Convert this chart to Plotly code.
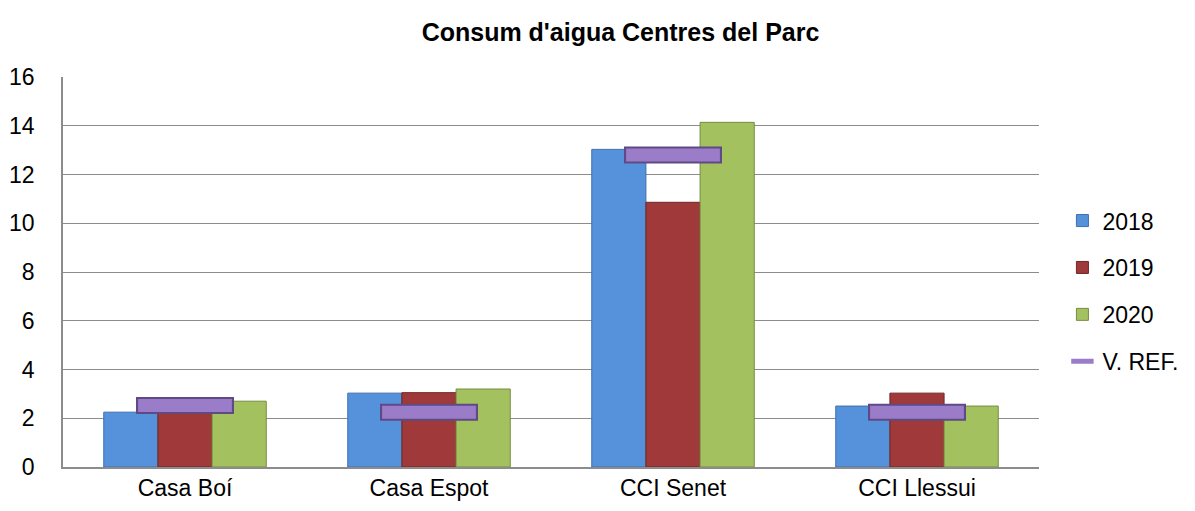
import plotly.graph_objects as go

categories = ["Casa Boí", "Casa Espot", "CCI Senet", "CCI Llessui"]
v2018 = [2.25, 3.03, 13.03, 2.5]
v2019 = [2.5, 3.05, 10.86, 3.03]
v2020 = [2.7, 3.2, 14.14, 2.5]
vref = [2.52, 2.25, 12.8, 2.25]
y_ticks = [0, 2, 4, 6, 8, 10, 12, 14, 16]

FONT = "Liberation Sans, Arial, sans-serif"
xpos = list(range(len(categories)))
bw = 0.222

fig = go.Figure()
series = [
    ("2018", v2018, "#5692DB", "#3E6FAE", -1.5 * bw),
    ("2019", v2019, "#A03A3A", "#702626", -0.5 * bw),
    ("2020", v2020, "#A3C15F", "#768C41", 0.5 * bw),
]
for i, (name, vals, col, edge, off) in enumerate(series):
    fig.add_trace(go.Bar(
        x=xpos, y=vals, name=name, width=bw, offset=off,
        marker=dict(color=col, line=dict(color=edge, width=1)),
        legendgroup=name,
    ))

# V. REF. drawn as thick horizontal dash markers (outer border + inner fill)
fig.add_trace(go.Scatter(
    x=xpos, y=vref, mode="markers", name="V. REF.", legendgroup="vref",
    marker=dict(symbol="line-ew", size=70, color="#5E4A85",
                line=dict(color="#5E4A85", width=17)),
    showlegend=False, hoverinfo="skip",
))
fig.add_trace(go.Scatter(
    x=xpos, y=vref, mode="markers", name="V. REF.", legendgroup="vref",
    marker=dict(symbol="line-ew", size=67, color="#9A7CC8",
                line=dict(color="#9A7CC8", width=13)),
))

fig.update_layout(
    barmode="overlay",
    width=1187, height=503,
    margin=dict(l=55, r=152, t=69, b=44),
    paper_bgcolor="white", plot_bgcolor="white",
    font=dict(family=FONT, size=23, color="black"),
    title=dict(text="<b>Consum d'aigua Centres del Parc</b>", x=0.516, xanchor="center",
               y=0.952, yanchor="middle", font=dict(family=FONT, size=25, color="black")),
    legend=dict(x=1.024, xanchor="left", y=0.451, yanchor="middle",
                font=dict(family=FONT, size=23), tracegroupgap=14,
                itemwidth=30, bgcolor="rgba(0,0,0,0)"),
    showlegend=True,
)
fig.update_xaxes(
    tickmode="array", tickvals=xpos, ticktext=categories,
    range=[-0.5, len(categories) - 0.5],
    showline=True, linecolor="#8C8C8C", linewidth=1.5,
    showgrid=False, ticks="", zeroline=False, tickfont=dict(size=23),
    automargin=False,
)
fig.update_yaxes(
    range=[0, 16], tickvals=y_ticks,
    showline=True, linecolor="#8C8C8C", linewidth=1.5,
    showgrid=True, gridcolor="#8C8C8C", gridwidth=1,
    ticks="", zeroline=False, tickfont=dict(size=23), ticklabelstandoff=22,
    automargin=False,
)

fig.write_html("out.html")
